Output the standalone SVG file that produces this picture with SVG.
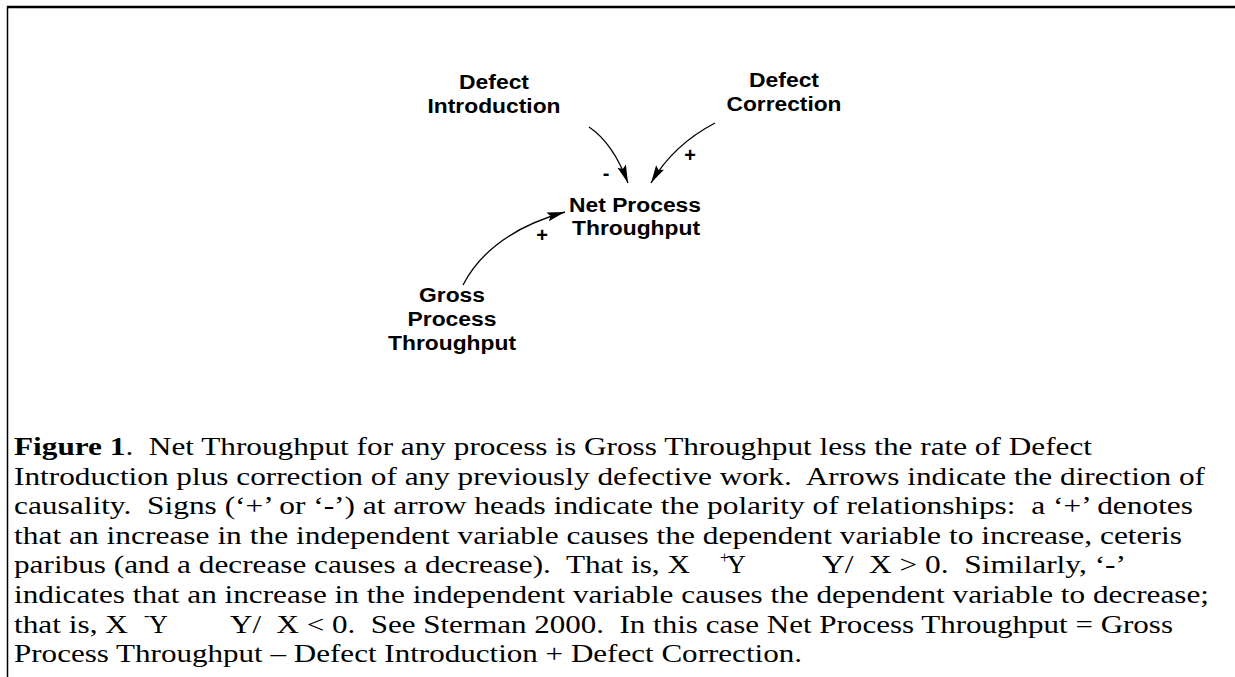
<svg xmlns="http://www.w3.org/2000/svg" width="1235" height="677" viewBox="0 0 1235 677">
<style>
.lbl{font-family:"Liberation Sans",Arial,sans-serif;font-weight:bold;font-size:19.5px;fill:#000;text-anchor:middle}
.sign{font-family:"Liberation Sans",Arial,sans-serif;font-weight:bold;font-size:20px;fill:#000;text-anchor:middle}
.cap{font-family:"Liberation Serif","Times New Roman",serif;font-size:26px;fill:#000}
.sup{font-family:"Liberation Serif","Times New Roman",serif;font-size:16px;fill:#000}
.link{fill:none;stroke:#000;stroke-width:1.3}
</style>
<defs>
<marker id="ah" markerUnits="userSpaceOnUse" markerWidth="19" markerHeight="10" refX="18" refY="5" orient="auto">
<path d="M0,0.5 L18,5 L0,9.5 L3,5 z" fill="#000"/>
</marker>
</defs>
<rect width="1235" height="677" fill="#fff"/>
<path d="M7.5,677 V7 H1235" fill="none" stroke="#000" stroke-width="1.5"/>
<line x1="7" y1="7" x2="1235" y2="7" stroke="#000" stroke-width="2.5"/>
<g id="connectors">
<path class="link" d="M589,127 Q613,143 628,183" marker-end="url(#ah)"/>
<path class="link" d="M715,123 Q673,145 651,183" marker-end="url(#ah)"/>
<path class="link" d="M463,285 Q490,233 565,212" marker-end="url(#ah)"/>
<text class="sign" x="606" y="180">-</text>
<text class="sign" x="690" y="162">+</text>
<text class="sign" x="542" y="242">+</text>
</g>
<g id="defect-introduction">
<text class="lbl" x="494" y="89" textLength="70" lengthAdjust="spacingAndGlyphs">Defect</text>
<text class="lbl" x="494" y="113" textLength="133" lengthAdjust="spacingAndGlyphs">Introduction</text>
</g>
<g id="defect-correction">
<text class="lbl" x="784" y="87" textLength="70" lengthAdjust="spacingAndGlyphs">Defect</text>
<text class="lbl" x="784" y="111" textLength="115" lengthAdjust="spacingAndGlyphs">Correction</text>
</g>
<g id="net-process-throughput">
<text class="lbl" x="635" y="212" textLength="132" lengthAdjust="spacingAndGlyphs">Net Process</text>
<text class="lbl" x="636" y="235" textLength="128" lengthAdjust="spacingAndGlyphs">Throughput</text>
</g>
<g id="gross-process-throughput">
<text class="lbl" x="452" y="302" textLength="66" lengthAdjust="spacingAndGlyphs">Gross</text>
<text class="lbl" x="452" y="326" textLength="89" lengthAdjust="spacingAndGlyphs">Process</text>
<text class="lbl" x="452" y="350" textLength="128" lengthAdjust="spacingAndGlyphs">Throughput</text>
</g>
<g id="caption">
<text class="cap" x="14" y="455" textLength="1078" lengthAdjust="spacingAndGlyphs" xml:space="preserve"><tspan font-weight="bold">Figure 1</tspan>.  Net Throughput for any process is Gross Throughput less the rate of Defect</text>
<text class="cap" x="14" y="485" textLength="1191" lengthAdjust="spacingAndGlyphs" xml:space="preserve">Introduction plus correction of any previously defective work.  Arrows indicate the direction of</text>
<text class="cap" x="14" y="514" textLength="1179" lengthAdjust="spacingAndGlyphs" xml:space="preserve">causality.  Signs (‘+’ or ‘-’) at arrow heads indicate the polarity of relationships:  a ‘+’ denotes</text>
<text class="cap" x="14" y="544" textLength="1168" lengthAdjust="spacingAndGlyphs" xml:space="preserve">that an increase in the independent variable causes the dependent variable to increase, ceteris</text>
<text class="cap" x="14" y="573" textLength="676" lengthAdjust="spacingAndGlyphs" xml:space="preserve">paribus (and a decrease causes a decrease).  That is, X</text>
<text class="sup" x="720" y="563">+</text>
<text class="cap" x="727" y="573">Y</text>
<text class="cap" x="822" y="573" textLength="304" lengthAdjust="spacingAndGlyphs" xml:space="preserve">Y/  X &gt; 0.  Similarly, ‘-’</text>
<text class="cap" x="14" y="603" textLength="1195" lengthAdjust="spacingAndGlyphs" xml:space="preserve">indicates that an increase in the independent variable causes the dependent variable to decrease;</text>
<text class="cap" x="14" y="633" textLength="114" lengthAdjust="spacingAndGlyphs" xml:space="preserve">that is, X</text>
<text class="sup" x="144" y="621">-</text>
<text class="cap" x="149" y="633">Y</text>
<text class="cap" x="230" y="633" textLength="943" lengthAdjust="spacingAndGlyphs" xml:space="preserve">Y/  X &lt; 0.  See Sterman 2000.  In this case Net Process Throughput = Gross</text>
<text class="cap" x="14" y="662" textLength="788" lengthAdjust="spacingAndGlyphs" xml:space="preserve">Process Throughput – Defect Introduction + Defect Correction.</text>
</g>
</svg>
